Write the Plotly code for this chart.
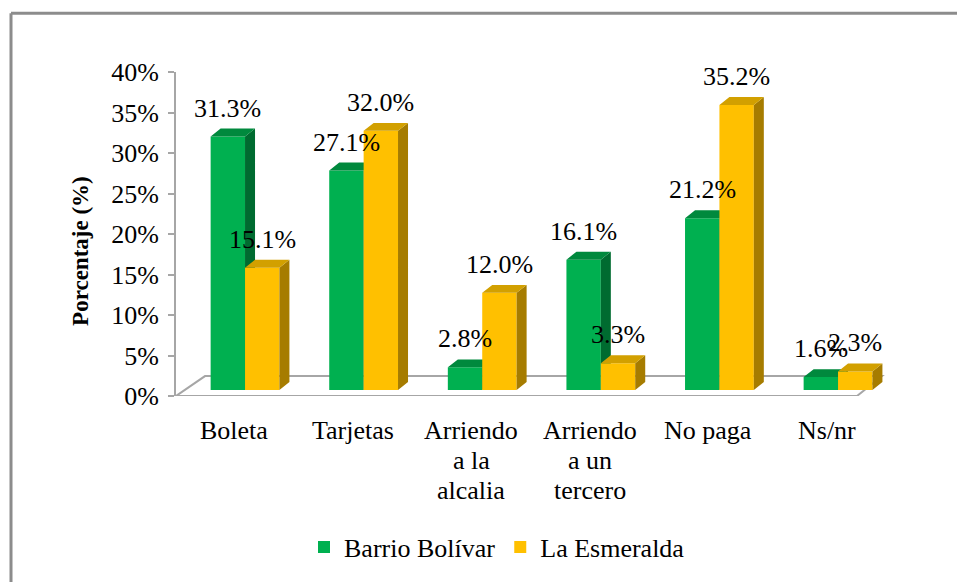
import plotly.graph_objects as go

# ---- data ----
categories = ["Boleta", "Tarjetas", "Arriendo\na la\nalcalia", "Arriendo\na un\ntercero", "No paga", "Ns/nr"]
series_names = ["Barrio Bolívar", "La Esmeralda"]
barrio_bolivar = [0.313, 0.271, 0.028, 0.161, 0.212, 0.016]
la_esmeralda = [0.151, 0.320, 0.120, 0.033, 0.352, 0.023]
y_ticks = [0, 0.05, 0.10, 0.15, 0.20, 0.25, 0.30, 0.35, 0.40]
y_title = "Porcentaje (%)"

# ---- style ----
FONT = "Times New Roman, Liberation Serif, serif"
W, H = 957, 582
L, R, T, B = 176, 60, 72, 184
PW, PH = W - L - R, H - T - B
XMIN = -0.582
PX_PER_CAT = 118.6
XMAX = XMIN + PW / PX_PER_CAT
YMAX = 0.40
PX_PER_UNIT = PH / YMAX
SHIFT = 6 / PX_PER_UNIT          # bars sit slightly behind the axis plane
BW = 0.29                        # bar width (category units)
DX = 10 / PX_PER_CAT             # 3D depth offset
DY = 8 / PX_PER_UNIT

GREEN = dict(front="#00B050", side="#006B30", top="#00893D")
YELLOW = dict(front="#FFC000", side="#A67C00", top="#D2A000")

xs = list(range(len(categories)))

fig = go.Figure()


def faces(left_edges, values):
    side_x, side_y, top_x, top_y = [], [], [], []
    for xl, v in zip(left_edges, values):
        xr = xl + BW
        side_x += [xr, xr + DX, xr + DX, xr, xr, None]
        side_y += [0, DY, v + DY, v, 0, None]
        top_x += [xl, xl + DX, xr + DX, xr, xl, None]
        top_y += [v, v + DY, v + DY, v, v, None]
    return side_x, side_y, top_x, top_y


def add_series(name, values, colors, offset, xa, ya):
    fig.add_trace(go.Bar(
        x=xs, y=values, name=name, width=BW, offset=offset,
        marker=dict(color=colors["front"], line=dict(width=0)),
        xaxis=xa, yaxis=ya, hoverinfo="skip",
    ))
    left = [x + offset for x in xs]
    sx, sy, tx, ty = faces(left, values)
    fig.add_trace(go.Scatter(x=sx, y=sy, fill="toself", mode="lines",
                             line=dict(width=0, color=colors["side"]),
                             fillcolor=colors["side"], showlegend=False,
                             xaxis=xa, yaxis=ya, hoverinfo="skip"))
    fig.add_trace(go.Scatter(x=tx, y=ty, fill="toself", mode="lines",
                             line=dict(width=0, color=colors["top"]),
                             fillcolor=colors["top"], showlegend=False,
                             xaxis=xa, yaxis=ya, hoverinfo="skip"))


add_series(series_names[0], barrio_bolivar, GREEN, -BW, "x", "y2")
add_series(series_names[1], la_esmeralda, YELLOW, 0.0, "x2", "y3")


def px2paper_x(px):
    return (px - L) / PW


def px2paper_y(py):
    return (T + PH - py) / PH


def px2data_x(px):
    return XMIN + (px - L) / PX_PER_CAT


def px2data_y(py):
    return (T + PH - py) / PX_PER_UNIT


annotations = []
# data labels
for x, v in zip(xs, barrio_bolivar):
    annotations.append(dict(x=x - BW / 2, y=v, xref="x", yref="y2", text=f"{v*100:.1f}%",
                            showarrow=False, yanchor="bottom", yshift=12,
                            font=dict(family=FONT, size=26, color="#000")))
for x, v in zip(xs, la_esmeralda):
    annotations.append(dict(x=x + BW / 2, y=v, xref="x2", yref="y3", text=f"{v*100:.1f}%",
                            showarrow=False, yanchor="bottom", yshift=12,
                            font=dict(family=FONT, size=26, color="#000")))
# category labels (one annotation per line)
for x, cat in zip(xs, categories):
    for k, line in enumerate(cat.split("\n")):
        annotations.append(dict(x=x, y=0, xref="x", yref="paper", text=line,
                                showarrow=False, yanchor="middle", xshift=-11,
                                yshift=-(34 + 30 * k),
                                font=dict(family=FONT, size=26, color="#000")))
# y-axis title
annotations.append(dict(x=px2paper_x(81), y=px2paper_y(252), xref="paper", yref="paper",
                        text=f"<b>{y_title}</b>", textangle=-90, showarrow=False,
                        xanchor="center", yanchor="middle",
                        font=dict(family=FONT, size=23, color="#000")))

shapes = [
    # 3D floor
    dict(type="path", xref="x", yref="y", layer="below",
         path=(f"M {px2data_x(176)},{px2data_y(398)} L {px2data_x(205)},{px2data_y(378)} "
               f"L {px2data_x(882)},{px2data_y(378)} L {px2data_x(857)},{px2data_y(398)} Z"),
         line=dict(color="#A6A6A6", width=2), fillcolor="rgba(0,0,0,0)"),
    # outer frame (top + left)
    dict(type="line", xref="paper", yref="paper",
         x0=px2paper_x(11), y0=px2paper_y(590), x1=px2paper_x(11), y1=px2paper_y(13),
         line=dict(color="#8C8C8C", width=3)),
    dict(type="line", xref="paper", yref="paper",
         x0=px2paper_x(11), y0=px2paper_y(13), x1=px2paper_x(965), y1=px2paper_y(13),
         line=dict(color="#8C8C8C", width=3)),
]

fig.update_layout(
    width=W, height=H,
    margin=dict(l=L, r=R, t=T, b=B),
    paper_bgcolor="white", plot_bgcolor="rgba(0,0,0,0)",
    font=dict(family=FONT, color="#000"),
    showlegend=True,
    legend=dict(orientation="h", x=px2paper_x(497), xanchor="center",
                y=px2paper_y(550), yanchor="middle",
                font=dict(family=FONT, size=26), itemwidth=30,
                traceorder="normal"),
    xaxis=dict(range=[XMIN, XMAX], visible=False, fixedrange=True),
    xaxis2=dict(range=[XMIN, XMAX], visible=False, overlaying="x", anchor="y3"),
    yaxis=dict(range=[0, YMAX], tickvals=y_ticks, tickformat=".0%",
               ticks="outside", ticklen=6, tickcolor="#A6A6A6", tickwidth=2,
               showline=True, linecolor="#A6A6A6", linewidth=2,
               showgrid=False, zeroline=False, ticklabelstandoff=4,
               tickfont=dict(family=FONT, size=26, color="#000")),
    yaxis2=dict(range=[-SHIFT, YMAX - SHIFT], visible=False, overlaying="y"),
    yaxis3=dict(range=[-SHIFT, YMAX - SHIFT], visible=False, overlaying="y", anchor="x2"),
    annotations=annotations,
    shapes=shapes,
)

fig.write_html("out.html", config={"displayModeBar": False},
               post_script="document.body.style.margin='0';document.body.style.overflow='hidden';")
